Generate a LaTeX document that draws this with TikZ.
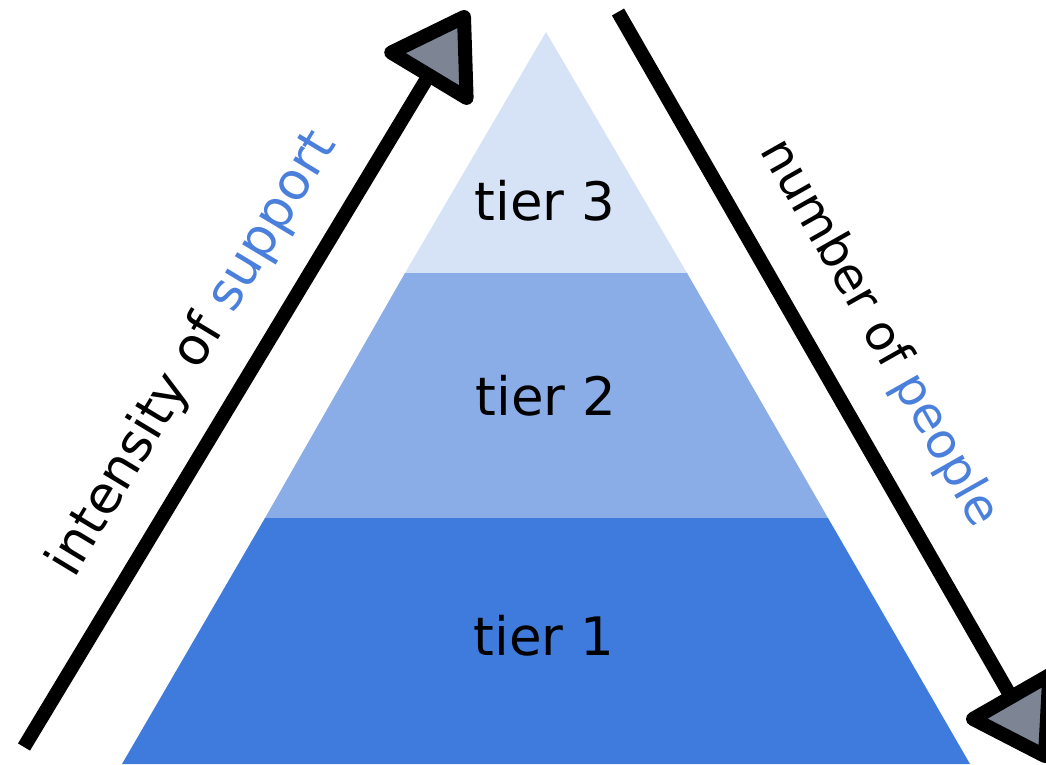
\documentclass[tikz,border=0pt]{standalone}
\usepackage{fontspec}
\setmainfont{DejaVu Sans}
\usetikzlibrary{calc}
\definecolor{tierone}{HTML}{3F7BDC}
\definecolor{tiertwo}{HTML}{8AADE8}
\definecolor{tierthree}{HTML}{D6E3F7}
\definecolor{accent}{HTML}{4A80DB}
\definecolor{headfill}{HTML}{7D8594}
\tikzset{
  tierlabel/.style={inner sep=0pt, font=\fontsize{53}{63}\selectfont, text=black},
  axislabel/.style={inner sep=0pt, font=\fontsize{52}{62}\selectfont, text=black},
  axislabelsmall/.style={inner sep=0pt, font=\fontsize{49}{59}\selectfont, text=black},
  axisline/.style={draw=black, line width=14pt, line cap=butt},
  axishead/.style={draw=black, fill=headfill, line width=14pt, line join=round},
}
\begin{document}
\begin{tikzpicture}[x=1pt,y=-1pt]
\useasboundingbox (0,0) rectangle (1046,764);
\clip (0,0) rectangle (1046,764);
% pyramid
\fill[tierthree] (546,32) -- (687,273) -- (405,273) -- cycle;
\fill[tiertwo] (405,273) -- (687,273) -- (828,518) -- (265,518) -- cycle;
\fill[tierone] (265,518) -- (828,518) -- (970,764) -- (122,764) -- cycle;
\node[tierlabel] (t3) at (545,201) {tier 3};
\node[tierlabel] (t2) at (546,396) {tier 2};
\node[tierlabel] (t1) at (544,636) {tier 1};
% left axis
\coordinate (ls) at (24,747);
\coordinate (lt) at (464,17);
\coordinate (lb) at ($(lt)!68pt!(ls)$);
\coordinate (lv1) at ($(lb)!44pt!90:(lt)$);
\coordinate (lv2) at ($(lb)!44pt!-90:(lt)$);
\draw[axisline] (ls) -- (lb);
\draw[axishead] (lt) -- (lv1) -- (lv2) -- cycle;
% right axis
\coordinate (rs) at (618,12);
\coordinate (rt) at (1045,756);
\coordinate (rb) at ($(rt)!68pt!(rs)$);
\coordinate (rv1) at ($(rb)!44pt!90:(rt)$);
\coordinate (rv2) at ($(rb)!44pt!-90:(rt)$);
\draw[axisline] (rs) -- (rb);
\draw[axishead] (rt) -- (rv1) -- (rv2) -- cycle;
% labels
\node[axislabel, rotate=58.9] (lab1) at (193,354) {intensity of \textcolor{accent}{support}};
\node[axislabelsmall, rotate=-60.5] (lab2) at (879,333) {number of \textcolor{accent}{people}};
\end{tikzpicture}
\end{document}
